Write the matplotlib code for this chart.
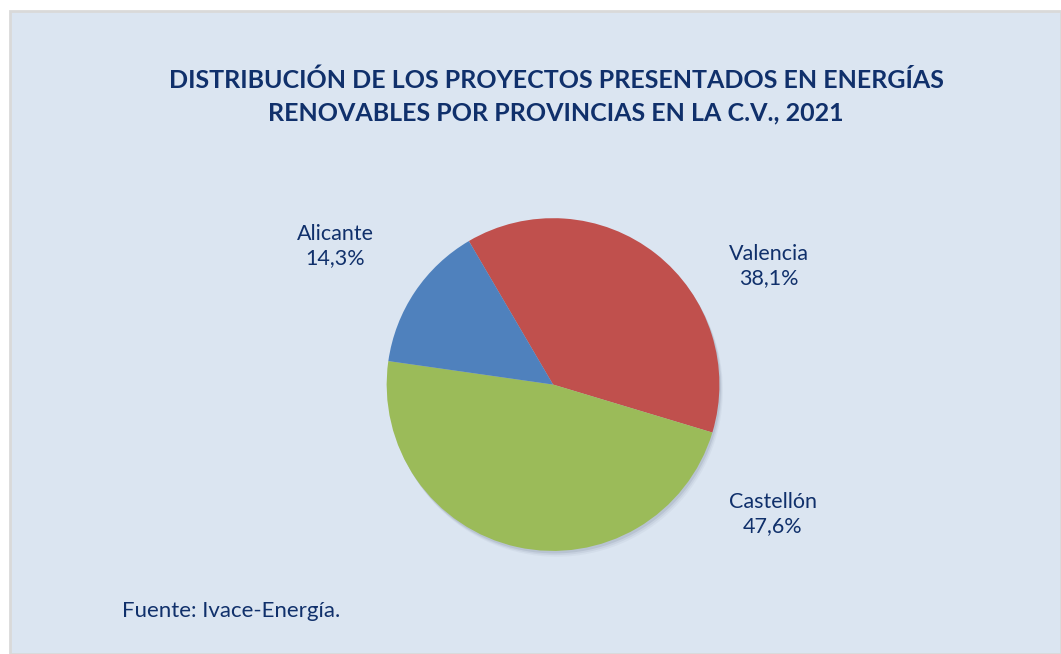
import matplotlib
matplotlib.use('Agg')
import matplotlib.pyplot as plt
from matplotlib.patches import Rectangle, Circle

provincias = ['Valencia', 'Castellón', 'Alicante']
porcentajes = [38.1, 47.6, 14.3]
colores = ['#C0504D', '#9BBB59', '#4F81BD']
etiquetas = ['Valencia\n38,1%', 'Castellón\n47,6%', 'Alicante\n14,3%']
titulo = 'DISTRIBUCIÓN DE LOS PROYECTOS PRESENTADOS EN ENERGÍAS\nRENOVABLES POR PROVINCIAS EN LA C.V., 2021'
fuente = 'Fuente: Ivace-Energía.'

texto = '#10306B'
plt.rcParams['font.family'] = ['Lato', 'DejaVu Sans']

W, H = 1061, 654
fig = plt.figure(figsize=(W / 100, H / 100), dpi=100)
fig.patch.set_facecolor('white')

# chart area with light border
fig.patches.append(Rectangle((10 / W, 0), 1 - 10 / W, 1 - 11 / H, transform=fig.transFigure,
                             facecolor='#DBE5F1', edgecolor='#D9D9D9', linewidth=2, zorder=-5))

ax = fig.add_axes([0.3252, 0.094, 0.3921, 0.636])
ax.set_facecolor('none')
ax.set_zorder(2)

# soft shadow under the pie
for d, a in [(0.035, 0.05), (0.025, 0.08), (0.015, 0.12)]:
    ax.add_patch(Circle((d * 0.6, -d), 1.0, facecolor='#4A5A70', alpha=a, edgecolor='none', zorder=0))

wedges, _ = ax.pie(porcentajes, colors=colores, startangle=120.4, counterclock=False,
                   wedgeprops=dict(linewidth=0, zorder=1))
ax.set_xlim(-1.25, 1.25)
ax.set_ylim(-1.25, 1.25)
ax.set_aspect('equal')

pos_etiquetas = [(1.30, 0.71), (1.32, -0.78), (-1.31, 0.83)]
for (x, y), lab in zip(pos_etiquetas, etiquetas):
    ax.text(x, y, lab, ha='center', va='center', fontsize=15.5, color=texto, linespacing=1.25)

fig.text(556 / W, 1 - 96.5 / H, titulo, ha='center', va='center', fontsize=18,
         fontweight='bold', color=texto, linespacing=1.5)
fig.text(122 / W, 1 - 611 / H, fuente, ha='left', va='center', fontsize=16, color=texto)

fig.savefig('out.png', dpi=100, facecolor=fig.get_facecolor())
